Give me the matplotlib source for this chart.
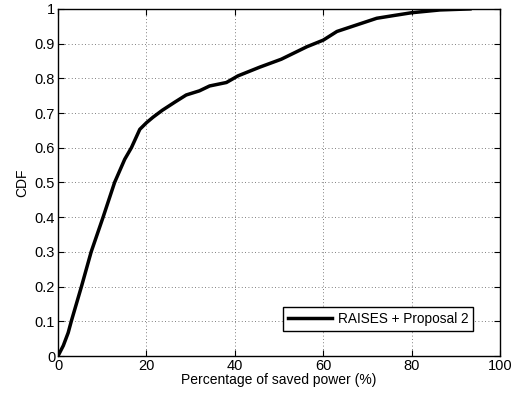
import numpy as np
import matplotlib
matplotlib.use('Agg')
import matplotlib.pyplot as plt

plt.rcParams['font.family'] = ['Liberation Sans', 'DejaVu Sans']

# CDF of saved power
saved_pct = [0, 1.2, 2.3, 3.0, 5.3, 7.5, 10.2, 12.8, 15.1, 16.6, 18.5, 20.0,
             21.5, 23.6, 26.5, 29.0, 32.0, 34.3, 38.1, 40.7, 45.6, 50.5, 56.3,
             60.0, 63.1, 67.6, 72.1, 76.0, 80.0, 86.4, 93.2]
cdf = [0, 0.03, 0.067, 0.10, 0.20, 0.30, 0.40, 0.50, 0.567, 0.60, 0.653,
       0.672, 0.688, 0.708, 0.732, 0.752, 0.764, 0.778, 0.788, 0.807, 0.832,
       0.855, 0.891, 0.910, 0.935, 0.954, 0.973, 0.981, 0.989, 0.997, 1.0]
xticks = [0, 20, 40, 60, 80, 100]
yticks = [0, 0.1, 0.2, 0.3, 0.4, 0.5, 0.6, 0.7, 0.8, 0.9, 1]
ytick_labels = ['0', '0.1', '0.2', '0.3', '0.4', '0.5', '0.6', '0.7', '0.8', '0.9', '1']

fig = plt.figure(figsize=(5.17, 3.94), dpi=100)
ax = fig.add_axes([0.1122, 0.0964, 0.855, 0.881])

ax.plot(saved_pct, cdf, color='black', lw=2.5, label='RAISES + Proposal 2')

ax.set_xlim(0, 100)
ax.set_ylim(0, 1)
ax.set_xticks(xticks)
ax.set_yticks(yticks)
ax.set_yticklabels(ytick_labels)
ax.tick_params(direction='in', top=True, right=True, labelsize=10.5, length=4, pad=2)
ax.grid(True, linestyle=(0, (1, 3)), color='#555555', lw=0.6)
for s in ax.spines.values():
    s.set_linewidth(1.0)

ax.set_xlabel('Percentage of saved power (%)', fontsize=10, labelpad=0)
ax.set_ylabel('CDF', fontsize=10, labelpad=4)

leg = ax.legend(loc='lower right', bbox_to_anchor=(0.939, 0.072), fontsize=9.8,
                fancybox=False, framealpha=1, edgecolor='black', borderaxespad=0,
                handlelength=3.2, borderpad=0.35, handletextpad=0.45)
leg.get_frame().set_linewidth(1.0)

fig.savefig('out.png', dpi=100)
